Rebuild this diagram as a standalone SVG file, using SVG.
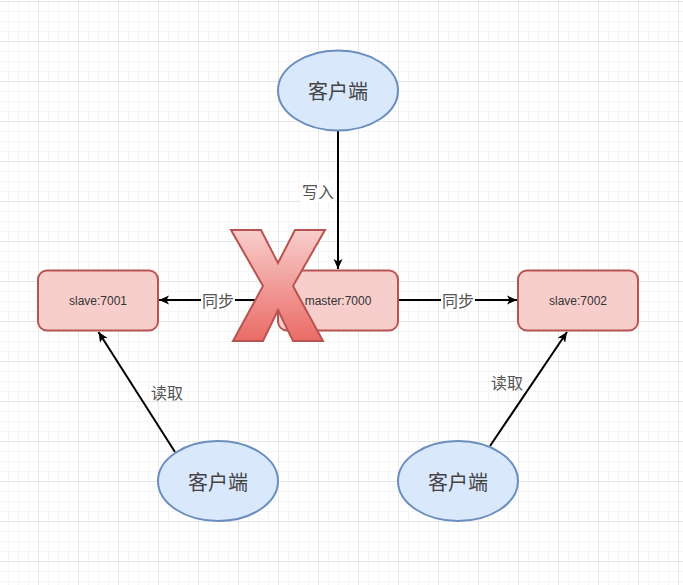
<svg xmlns="http://www.w3.org/2000/svg" width="683" height="585" viewBox="0 0 683 585">
  <defs>
    <pattern id="grid" patternUnits="userSpaceOnUse" x="-2" y="1" width="40" height="40">
      <rect x="0" y="0" width="40" height="40" fill="#ffffff"/>
      <path d="M10.5,0V40M20.5,0V40M30.5,0V40M0,10.5H40M0,20.5H40M0,30.5H40" stroke="#f5f5f5" stroke-width="1" fill="none"/>
      <path d="M0.5,0V40M0,0.5H40" stroke="#e6e6e6" stroke-width="1" fill="none"/>
    </pattern>
    <linearGradient id="xgrad" x1="0" y1="0" x2="0" y2="1">
      <stop offset="0" stop-color="#f8cecc"/>
      <stop offset="1" stop-color="#ea6b66"/>
    </linearGradient>
    <marker id="arrow" markerUnits="userSpaceOnUse" markerWidth="12" markerHeight="10" refX="10" refY="5" orient="auto">
      <path d="M0,0.5 L10,5 L0,9.5 L2.5,5 Z" fill="#000000"/>
    </marker>
    <style>
      .ell { fill: #dae8fc; stroke: #6c8ebf; stroke-width: 2; }
      .box { fill: #f8cecc; stroke: #b85450; stroke-width: 2; }
      .etxt { font-family: "Noto Sans CJK SC", "Liberation Sans", sans-serif; font-size: 20px; fill: #444444; text-anchor: middle; dominant-baseline: central; }
      .btxt { font-family: "Liberation Sans", Arial, sans-serif; font-size: 12px; fill: #333333; text-anchor: middle; dominant-baseline: central; }
      .ltxt { font-family: "Noto Sans CJK SC", "Liberation Sans", sans-serif; font-size: 16px; fill: #555555; text-anchor: middle; dominant-baseline: central; }
      .conn { stroke: #000000; stroke-width: 2; fill: none; marker-end: url(#arrow); }
      .lbg { fill: #ffffff; }
    </style>
  </defs>

  <rect x="0" y="0" width="683" height="585" fill="url(#grid)"/>

  <g id="connectors">
    <line class="conn" x1="338" y1="131" x2="338" y2="269"/>
    <line class="conn" x1="278" y1="300" x2="159" y2="300"/>
    <line class="conn" x1="398" y1="300" x2="517" y2="300"/>
    <line class="conn" x1="175" y1="452" x2="98.5" y2="332"/>
    <line class="conn" x1="490" y1="446" x2="567" y2="332"/>
    <rect class="lbg" x="301" y="181" width="34" height="21"/>
    <text class="ltxt" x="318" y="191">写入</text>
    <rect class="lbg" x="201" y="290" width="34" height="21"/>
    <text class="ltxt" x="218" y="300">同步</text>
    <rect class="lbg" x="441" y="290" width="34" height="21"/>
    <text class="ltxt" x="458" y="300">同步</text>
    <text class="ltxt" x="167" y="392">读取</text>
    <text class="ltxt" x="507" y="382">读取</text>
  </g>

  <g id="client-top">
    <ellipse class="ell" cx="338" cy="90.5" rx="60" ry="40"/>
    <text class="etxt" x="338" y="90.5">客户端</text>
  </g>
  <g id="client-left">
    <ellipse class="ell" cx="218" cy="481" rx="60" ry="40"/>
    <text class="etxt" x="218" y="481">客户端</text>
  </g>
  <g id="client-right">
    <ellipse class="ell" cx="458" cy="481" rx="60" ry="40"/>
    <text class="etxt" x="458" y="481">客户端</text>
  </g>

  <g id="slave-7001">
    <rect class="box" x="38" y="270.5" width="120" height="60" rx="9" ry="9"/>
    <text class="btxt" x="98" y="300.5">slave:7001</text>
  </g>
  <g id="master-7000">
    <rect class="box" x="278" y="270.5" width="120" height="60" rx="9" ry="9"/>
    <text class="btxt" x="338" y="300.5">master:7000</text>
  </g>
  <g id="slave-7002">
    <rect class="box" x="518" y="270.5" width="120" height="60" rx="9" ry="9"/>
    <text class="btxt" x="578" y="300.5">slave:7002</text>
  </g>

  <g id="cross-mark">
    <polygon points="231,230 261,230 278,263 295,230 325,230 293,286 323,341 293,341 278,310 263,341 233,341 263,286" fill="url(#xgrad)" stroke="#b85450" stroke-width="2" stroke-linejoin="miter"/>
  </g>
</svg>
